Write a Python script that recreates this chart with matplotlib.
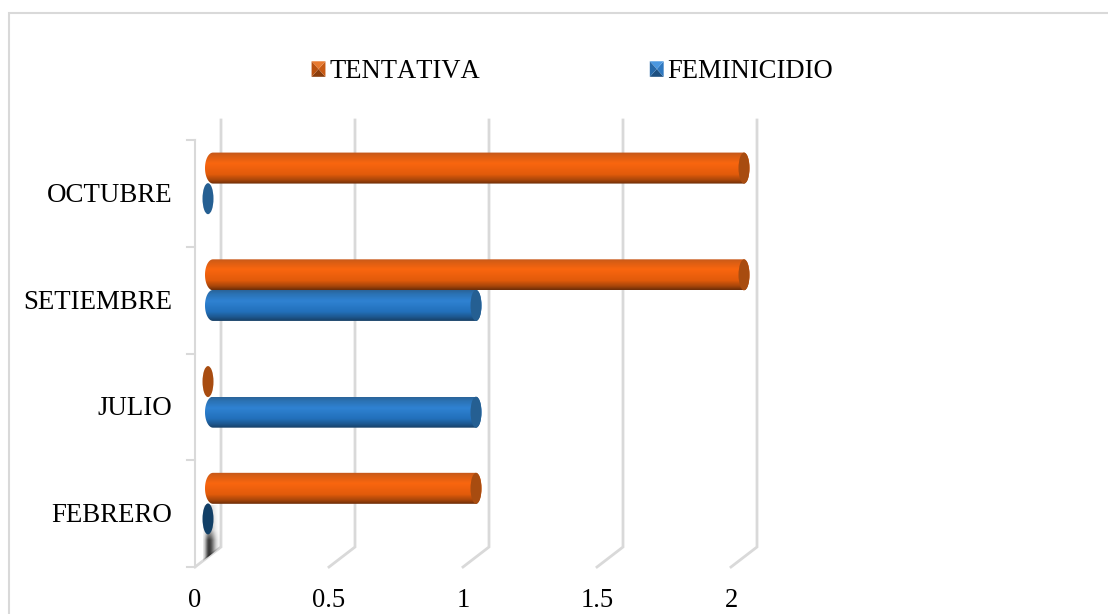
import matplotlib
matplotlib.use('Agg')
import matplotlib.pyplot as plt
import numpy as np
from matplotlib.colors import LinearSegmentedColormap
from matplotlib.legend_handler import HandlerBase
from matplotlib.patches import Ellipse, Patch, PathPatch, Polygon, Rectangle
from matplotlib.path import Path
from matplotlib.transforms import ScaledTranslation

# Data
months = ['FEBRERO', 'JULIO', 'SETIEMBRE', 'OCTUBRE']
tentativa = [1, 0, 2, 2]
feminicidio = [0, 1, 1, 0]
x_ticks = [0, 0.5, 1, 1.5, 2]
x_tick_labels = ['0', '0.5', '1', '1.5', '2']

W, H = 1108, 614
GRID = '#d9d9d9'

plt.rcParams['font.family'] = ['Liberation Serif', 'DejaVu Serif']
plt.rcParams['font.size'] = 19.2
plt.rcParams['text.kerning_factor'] = 6  # reference text is set without kerning

fig = plt.figure(figsize=(W / 100, H / 100), dpi=100)
# page frame, open on the right and at the bottom
fig.add_artist(Rectangle((8.5 / W, -0.02), W / W, (H - 13) / H + 0.02, transform=fig.transFigure,
                         fc='none', ec=GRID, lw=1.5))

# plot area: floor front edge runs 195..731 px, categories 140..567 px
ax = fig.add_axes([195 / W, (H - 567) / H, 536 / W, 427 / H])
ax.set_xlim(0, 2)
ax.set_ylim(-0.5, 3.5)
ax.patch.set_alpha(0)
for name in ['top', 'right', 'bottom']:
    ax.spines[name].set_visible(False)
ax.spines['left'].set_color(GRID)
ax.spines['left'].set_linewidth(1.5)

ax.set_yticks(np.arange(len(months)))
ax.set_yticklabels(months, fontsize=19.4)
ax.set_xticks(x_ticks)
ax.set_xticklabels(x_tick_labels)
ax.tick_params(axis='y', length=0, pad=16.5)
ax.tick_params(axis='x', length=0, pad=15)
for label in ax.get_yticklabels():
    label.set_transform(label.get_transform() + ScaledTranslation(0, 1 / 100, fig.dpi_scale_trans))

# depth offset of the 3D look, in data units
px_x = 2 / 536
px_y = 4 / 427
dx, dy = 26 * px_x, 20 * px_y

# y axis tick marks on the category boundaries
for b in np.arange(len(months) + 1) - 0.5:
    ax.plot([-8 * px_x, 0], [b, b], color=GRID, lw=1.5, clip_on=False, zorder=1)

# walls: floor diagonals and back grid lines
for t in x_ticks:
    ax.plot([t, t + dx, t + dx], [-0.5, -0.5 + dy, 3.5 + 20 * px_y], color=GRID, lw=2,
            clip_on=False, zorder=1, solid_joinstyle='miter')

orange_cmap = LinearSegmentedColormap.from_list('o', [(0, '#c2581c'), (0.12, '#d95e14'), (0.35, '#f9660f'),
                                                      (0.7, '#e25b0b'), (0.88, '#a8460a'), (1, '#6e2e08')])
blue_cmap = LinearSegmentedColormap.from_list('b', [(0, '#2a6499'), (0.12, '#2b72b4'), (0.35, '#2f82d2'),
                                                    (0.7, '#2270bb'), (0.88, '#1d578e'), (1, '#173f66')])
ORANGE_CAP = '#a84c10'
BLUE_CAP = '#255f92'

bar_h = 31 * px_y
gap = 15.3 * px_y
x0 = 13 * px_x
y_lift = 10 * px_y
cap_w = 11 * px_x


def cylinder(value, y, cmap, cap_color):
    yc = y + y_lift
    if value == 0:
        ax.add_patch(Ellipse((x0, yc), cap_w, bar_h, fc=cap_color, ec='none', clip_on=False, zorder=4))
        return
    t = np.linspace(-np.pi / 2, np.pi / 2, 40)
    xe = x0 + value + 0.5 * cap_w * np.cos(t)
    ye = yc + 0.5 * bar_h * np.sin(t)
    # left end: round shoulder, extends 3 px left of x0
    xl = x0 + 5 * px_x - 8 * px_x * np.cos(t[::-1])
    yl = yc + 0.5 * bar_h * np.sin(t[::-1])
    pts = np.column_stack([np.r_[xe, xl], np.r_[ye, yl]])
    clip = PathPatch(Path(np.vstack([pts, pts[0]]), closed=True), transform=ax.transData)
    img = ax.imshow(np.linspace(0, 1, 64).reshape(-1, 1), cmap=cmap, aspect='auto', origin='upper',
                    extent=(x0 - cap_w, x0 + value + cap_w, yc - bar_h / 2, yc + bar_h / 2),
                    zorder=3, interpolation='bilinear')
    img.set_clip_box(fig.bbox)
    img.set_clip_path(clip)
    ax.add_patch(Ellipse((x0 + value, yc), cap_w, bar_h, fc=cap_color, ec='none', clip_on=False, zorder=4))


# grey shadow on the wall at the foot of the first category (203..221 px wide, 505..563 px high)
sx_px = np.linspace(203, 221, 36)
sx = np.where(sx_px < 209, np.exp(-((sx_px - 209) / 4) ** 2), np.exp(-((sx_px - 209) / 6) ** 2))
sy = np.interp(np.linspace(505, 563, 58), [505, 530, 540, 563], [0.2, 0.35, 0.9, 0.95])
shadow = np.zeros((58, 36, 4))
shadow[:, :, 3] = np.outer(sy, sx) * 0.85
shadow_top = -0.5 + (567 - 505) * px_y
shadow_bottom = -0.5 + (567 - 563) * px_y
shade = ax.imshow(shadow, aspect='auto', extent=(8 * px_x, dx, shadow_bottom, shadow_top),
                  zorder=2, interpolation='bilinear')
# cut along the floor diagonal
shade.set_clip_path(Polygon([(8 * px_x, -0.5 + 8 * px_x / dx * dy), (dx, -0.5 + dy), (dx, shadow_top), (8 * px_x, shadow_top)],
                            transform=ax.transData))

for i in range(len(months)):
    cylinder(tentativa[i], i + gap, orange_cmap, ORANGE_CAP)
    cylinder(feminicidio[i], i - gap, blue_cmap, '#123f66' if i == 0 else BLUE_CAP)

ax.set_xlim(0, 2)
ax.set_ylim(-0.5, 3.5)


# legend keys drawn as small bevelled squares
class BevelHandler(HandlerBase):
    def __init__(self, shades):
        super().__init__()
        self.shades = shades

    def create_artists(self, legend, orig, xd, yd, w, h, fontsize, trans):
        x, y = -xd, -yd
        c = (x + w / 2, y + h / 2)
        corners = [(x, y), (x + w, y), (x + w, y + h), (x, y + h)]
        out = []
        for k, shade in enumerate(self.shades):
            out.append(Polygon([corners[k], corners[(k + 1) % 4], c], fc=shade, ec='none', transform=trans))
        return out


h1 = Patch(label='TENTATIVA')
h2 = Patch(label='FEMINICIDIO')
ax.legend(handles=[h1, h2], ncol=2, frameon=False, loc='center', bbox_to_anchor=(572.5 / W, (H - 72) / H),
          bbox_transform=fig.transFigure, handlelength=0.52, handleheight=0.52, handletextpad=0.15,
          columnspacing=6.36, borderpad=0, fontsize=19.2,
          handler_map={h1: BevelHandler(['#8a3d0c', '#c85a14', '#e87a30', '#b8500f']),
                       h2: BevelHandler(['#1d4f80', '#2f78c0', '#4a97e0', '#2668a8'])})

fig.savefig('out.png', dpi=100)
